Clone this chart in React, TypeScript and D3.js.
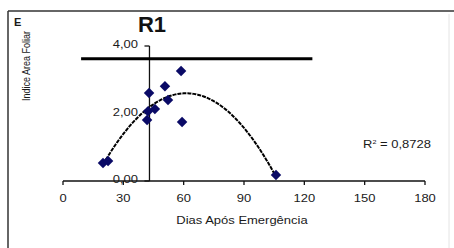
import React from "react";
import * as d3 from "d3";

// days after emergence / leaf area index
const dias = [19.9, 22.4, 41.8, 42.3, 42.8, 45.7, 50.7, 52.2, 58.7, 59.2, 105.9];
const iaf = [0.53, 0.59, 1.81, 2.07, 2.61, 2.13, 2.81, 2.4, 3.26, 1.75, 0.18];

const xTicks = [0, 30, 60, 90, 120, 150, 180];
const yTicks = [0, 2, 4];
const yTickLabels = ["0,00", "2,00", "4,00"];

// polynomial trendline (2nd order) coefficients: a*x^2 + b*x + c
const trendCoef = [-0.001237, 0.1514, -2.033];
const trendRange = [20, 106];
const r2Label = "0,8728";

// thick horizontal line drawn in the chart
const refLine = { x0: 9, x1: 124, y: 3.62 };
const yAxisCross = 43;

const W = 454;
const H = 248;
const STRETCH = 1.3;
const font = "'Liberation Sans', Arial, sans-serif";

// the original picture is stretched horizontally
function SText(props: { x: number; y: number; size: number; anchor?: string; children: any; bold?: boolean; rotate?: number }) {
  const { x, y, size, anchor = "middle", children, bold, rotate = 0 } = props;
  return (
    <g transform={`translate(${x},${y}) scale(${STRETCH},1) rotate(${rotate})`}>
      <text
        fontFamily={font}
        fontSize={size}
        fontWeight={bold ? "bold" : "normal"}
        textAnchor={anchor}
        dominantBaseline="central"
        fill="#1a1a1a"
      >
        {children}
      </text>
    </g>
  );
}

export default function App() {
  const x = d3.scaleLinear().domain([0, 180]).range([63, 425]);
  const y = d3.scaleLinear().domain([0, 4]).range([181, 46]);

  const trendX = d3.range(trendRange[0], trendRange[1] + 0.5, 1);
  const trend = d3
    .line<number>()
    .x((d) => x(d))
    .y((d) => y(trendCoef[0] * d * d + trendCoef[1] * d + trendCoef[2]));

  const diamond = d3.symbol().type(d3.symbolDiamond2).size(70)();
  const ax = x(yAxisCross);

  return (
    <svg width={W} height={H} style={{ position: "absolute", left: 0, top: 0, background: "#fff" }}>
      {/* frame */}
      <line x1={8} y1={11} x2={W} y2={11} stroke="#333" strokeWidth={1.5} />
      <line x1={8} y1={11} x2={8} y2={H} stroke="#333" strokeWidth={1.5} />
      <line x1={449} y1={14} x2={449} y2={H} stroke="#e4e4e4" strokeWidth={1} />

      <text x={14} y={22} fontFamily={font} fontSize={11} fontWeight="bold" dominantBaseline="central" fill="#1a1a1a">
        E
      </text>
      <text x={152} y={24} fontFamily={font} fontSize={22} fontWeight="bold" textAnchor="middle" dominantBaseline="central" fill="#111">
        R1
      </text>

      {/* x axis */}
      <line x1={x(0)} y1={y(0)} x2={x(180)} y2={y(0)} stroke="#111" strokeWidth={1.3} />
      {xTicks.map((t) => (
        <g key={t}>
          <line x1={x(t)} y1={y(0)} x2={x(t)} y2={y(0) + 4} stroke="#111" strokeWidth={1.3} />
          <SText x={x(t)} y={199} size={10}>{t}</SText>
        </g>
      ))}
      <SText x={242} y={221} size={10}>Dias Após Emergência</SText>

      {/* y axis */}
      <line x1={ax} y1={y(0)} x2={ax} y2={y(4)} stroke="#111" strokeWidth={1.3} />
      {yTicks.map((t, i) => (
        <g key={t}>
          <line x1={ax - 5} y1={y(t)} x2={ax} y2={y(t)} stroke="#111" strokeWidth={1.3} />
          <SText x={138} y={y(t) - 1} size={10} anchor="end">{yTickLabels[i]}</SText>
        </g>
      ))}
      <SText x={26} y={66} size={9} rotate={-90}>Indice Area Foliar</SText>

      {/* thick line */}
      <line x1={x(refLine.x0)} y1={y(refLine.y)} x2={x(refLine.x1)} y2={y(refLine.y)} stroke="#000" strokeWidth={3} />

      {/* trendline */}
      <path d={trend(trendX) || ""} fill="none" stroke="#000" strokeWidth={2} strokeDasharray="4,1" />

      {/* points */}
      {dias.map((d, i) => (
        <path key={i} d={diamond || ""} transform={`translate(${x(d)},${y(iaf[i])})`} fill="#0a0a66" />
      ))}

      <g transform={`translate(363,145) scale(${STRETCH},1)`}>
        <text fontFamily={font} fontSize={10} dominantBaseline="central" fill="#1a1a1a">
          R<tspan fontSize={5.5} dy={-4}>2</tspan>
          <tspan dy={4}> = {r2Label}</tspan>
        </text>
      </g>
    </svg>
  );
}
